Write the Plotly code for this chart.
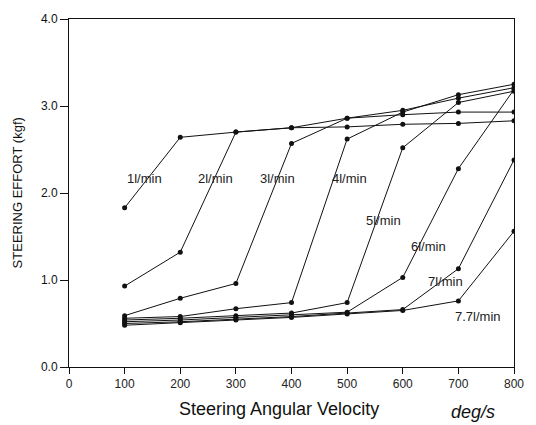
import plotly.graph_objects as go

# Steering angular velocity (deg/s)
velocity = [100, 200, 300, 400, 500, 600, 700, 800]

# Steering effort (kgf) for each pump flow rate
flow_labels = ["1l/min", "2l/min", "3l/min", "4l/min", "5l/min", "6l/min", "7l/min", "7.7l/min"]
effort_1 = [1.83, 2.64, 2.70, 2.75, 2.76, 2.79, 2.80, 2.83]
effort_2 = [0.93, 1.32, 2.70, 2.75, 2.86, 2.90, 2.93, 2.93]
effort_3 = [0.59, 0.79, 0.96, 2.57, 2.86, 2.95, 3.09, 3.21]
effort_4 = [0.56, 0.58, 0.67, 0.74, 2.62, 2.93, 3.13, 3.25]
effort_5 = [0.54, 0.56, 0.59, 0.62, 0.74, 2.52, 3.04, 3.17]
effort_6 = [0.52, 0.54, 0.57, 0.60, 0.63, 1.03, 2.28, 3.19]
effort_7 = [0.50, 0.52, 0.55, 0.58, 0.62, 0.66, 1.13, 2.38]
effort_77 = [0.48, 0.51, 0.54, 0.57, 0.61, 0.65, 0.76, 1.56]

# Label anchor positions (data coordinates)
label_x = [136, 263, 374, 505, 566, 646, 677, 736]
label_y = [2.17, 2.17, 2.17, 2.17, 1.68, 1.39, 0.98, 0.58]

x_ticks = [0, 100, 200, 300, 400, 500, 600, 700, 800]
y_ticks = [0.0, 1.0, 2.0, 3.0, 4.0]

series = [effort_1, effort_2, effort_3, effort_4, effort_5, effort_6, effort_7, effort_77]

FONT = "Liberation Sans, Arial, sans-serif"

fig = go.Figure()
for name, ys in zip(flow_labels, series):
    fig.add_trace(go.Scatter(
        x=velocity, y=ys, mode="lines+markers", name=name,
        line=dict(color="#111111", width=1),
        marker=dict(color="#111111", size=5),
        showlegend=False,
    ))

for name, lx, ly in zip(flow_labels, label_x, label_y):
    fig.add_annotation(x=lx, y=ly, text=name, showarrow=False,
                       font=dict(family=FONT, size=13, color="#222222"),
                       bgcolor="rgba(255,255,255,0)")

fig.add_annotation(xref="paper", yref="paper", x=(280 - 69) / 447, y=-0.121,
                   yanchor="middle", xanchor="center",
                   text="Steering Angular Velocity", showarrow=False,
                   font=dict(family=FONT, size=18, color="#111111"))
fig.add_annotation(xref="paper", yref="paper", x=(475 - 69) / 447, y=-0.13,
                   yanchor="middle", xanchor="center",
                   text="<i>deg/s</i>", showarrow=False,
                   font=dict(family=FONT, size=18, color="#111111"))
fig.add_annotation(xref="paper", yref="paper", x=-0.116, y=0.5,
                   xanchor="center", yanchor="middle", textangle=-90,
                   text="STEERING EFFORT (kgf)", showarrow=False,
                   font=dict(family=FONT, size=13, color="#111111"))

fig.update_xaxes(
    range=[0, 800], tickvals=x_ticks, ticktext=[str(v) for v in x_ticks],
    ticks="outside", ticklen=6, tickcolor="#111111", tickwidth=1,
    showline=True, linecolor="#111111", linewidth=1, mirror=True,
    showgrid=False, zeroline=False,
    tickfont=dict(family=FONT, size=12, color="#222222"),
)
fig.update_yaxes(
    range=[0, 4.0], tickvals=y_ticks, ticktext=[f"{v:.1f}" for v in y_ticks],
    ticks="outside", ticklen=8, tickcolor="#111111", tickwidth=1,
    showline=True, linecolor="#111111", linewidth=1, mirror=True,
    showgrid=False, zeroline=False,
    tickfont=dict(family=FONT, size=12, color="#111111"),
)

fig.update_layout(
    width=536, height=425,
    margin=dict(l=69, r=20, t=13, b=58),
    paper_bgcolor="white", plot_bgcolor="white",
)

fig.write_html("out.html")
